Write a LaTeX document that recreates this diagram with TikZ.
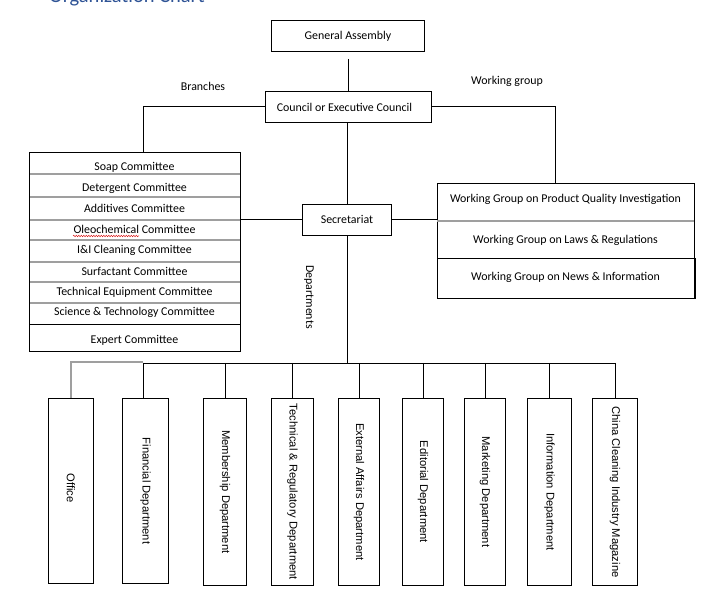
\documentclass[tikz,border=0pt]{standalone}
\usepackage{fontspec}
\setmainfont{Carlito}
\newfontfamily\deptfont{Liberation Sans}
\usetikzlibrary{decorations.pathmorphing}
\definecolor{titleblue}{RGB}{47,84,150}
\definecolor{spellred}{RGB}{220,30,30}
\tikzset{
  box/.style={draw, line width=0.9pt, inner sep=0pt, anchor=north west},
  lbl/.style={inner sep=0pt, font=\fontsize{11.9}{13}\selectfont},
  conn/.style={line width=0.9pt},
  grayline/.style={line width=1.5pt, draw=gray!75},
  dept/.style={draw, line width=0.9pt, inner sep=0pt, anchor=north west, minimum width=45pt, minimum height=186pt},
  depttext/.style={rotate=-90, inner sep=0pt, font=\deptfont\fontsize{11.2}{13}\selectfont},
}
\begin{document}
\begin{tikzpicture}[x=1pt,y=-1pt]
\useasboundingbox (0,0) rectangle (705,593);
\clip (0,0) rectangle (705,593);
\fill[white] (0,0) rectangle (705,593);
% title, cut by the top edge as in the reference
\node[anchor=base west, inner sep=0pt, text=titleblue, font=\fontsize{20.5}{24}\selectfont] (title) at (49,3) {Organization Chart};

% top boxes
\node[box, minimum width=153pt, minimum height=31pt] (ga) at (271,20) {};
\node[lbl] (gat) at (ga.center) {General Assembly};
\node[box, minimum width=166pt, minimum height=31pt] (council) at (265,91) {};
\node[lbl] (councilt) at ([xshift=-4pt]council.center) {Council or Executive Council};
\node[box, minimum width=89pt, minimum height=31pt] (sec) at (302,204) {};
\node[lbl] (sect) at (sec.center) {Secretariat};

\node[lbl] (branches) at (203,86) {Branches};
\node[lbl] (wglabel) at (507,81) {Working group};
\node[lbl, rotate=-90] (deptlabel) at (309,297) {Departments};

% committees
\node[box, minimum width=211pt, minimum height=199pt] (com) at (29,152) {};
\foreach \y in {174,197,220,240,262,282,303}{
  \draw[grayline] (29,\y) -- (240,\y);
}
\draw[conn] (29,324) -- (240,324);
\node[lbl] (c1) at (134.5,167) {Soap Committee};
\node[lbl] (c2) at (134.5,188) {Detergent Committee};
\node[lbl] (c3) at (134.5,208.5) {Additives Committee};
\node[lbl] (c4) at (134.5,229.5) {Oleochemical Committee};
\node[lbl] (c5) at (134.5,250.5) {I\&I Cleaning Committee};
\node[lbl] (c6) at (134.5,271) {Surfactant Committee};
\node[lbl] (c7) at (134.5,292) {Technical Equipment Committee};
\node[lbl] (c8) at (134.5,312.5) {Science \& Technology Committee};
\node[lbl] (c9) at (134.5,340) {Expert Committee};
\draw[spellred, line width=0.5pt, decorate, decoration={snake, amplitude=0.7pt, segment length=2.5pt}] (73,236) -- (139,236);
\draw[conn] (com.north west) rectangle (com.south east);

% working groups
\node[box, minimum width=257pt, minimum height=115pt] (wg) at (437,183) {};
\draw[grayline] (437,221) -- (694,221);
\draw[conn] (437,258) -- (695,258) -- (695,298) -- (694,298);
\node[lbl] (w1) at (565.5,199) {Working Group on Product Quality Investigation};
\node[lbl] (w2) at (565.5,240) {Working Group on Laws \& Regulations};
\node[lbl] (w3) at (565.5,277) {Working Group on News \& Information};

% departments
\node[dept, minimum height=185pt] (off) at (48,398) {};
\node[dept, minimum height=185pt, minimum width=46pt] (fin) at (122,398) {};
\node[dept, minimum width=43pt, minimum height=187pt] (mem) at (203,398) {};
\node[dept, minimum width=42pt, minimum height=187pt] (tec) at (271,398) {};
\node[dept, minimum width=41pt, minimum height=187pt] (ext) at (338,398) {};
\node[dept, minimum width=41pt, minimum height=187pt] (edi) at (402,398) {};
\node[dept, minimum width=41pt, minimum height=187pt] (mar) at (464,398) {};
\node[dept, minimum width=44pt, minimum height=187pt] (inf) at (527,398) {};
\node[dept, minimum width=45pt, minimum height=187pt] (chi) at (592,398) {};
\node[depttext] (offt) at ([yshift=3]off.center) {Office};
\node[depttext] (fint) at (fin.center) {Financial Department};
\node[depttext] (memt) at (mem.center) {Membership Department};
\node[depttext] (tect) at (tec.center) {Technical \& Regulatory Department};
\node[depttext] (extt) at (ext.center) {External Affairs Department};
\node[depttext] (edit) at (edi.center) {Editorial Department};
\node[depttext] (mart) at (mar.center) {Marketing Department};
\node[depttext] (inft) at (inf.center) {Information Department};
\node[depttext] (chit) at (chi.center) {China Cleaning Industry Magazine};

% connectors
\draw[conn, shorten <=7pt] (ga.south) -- (ga.south |- council.north);
\draw[conn] (council.east) -| ([xshift=-10.5pt]wg.north);
\draw[conn] (council.west) -| ([xshift=8.5pt]com.north);
\draw[conn] (council.south -| 347,0) -- (sec.north -| 347,0);
\draw[conn] (sec.west) -- (com.east |- sec.west);
\draw[conn] (sec.east) -- (wg.west |- sec.east);
\coordinate (bus) at (347,363);
\draw[conn] (sec.south -| bus) -- (bus);
\draw[conn] (bus -| 143,0) -- (bus -| chi.north);
\draw[grayline, line width=1.2pt] (143,362) -| (off.north);
\foreach \d in {mem,tec,ext,edi,mar,inf,chi}{
  \draw[conn] (bus -| \d.north) -- (\d.north);
}
\draw[conn] (bus -| 143,0) -- (143,398);
\end{tikzpicture}
\end{document}
